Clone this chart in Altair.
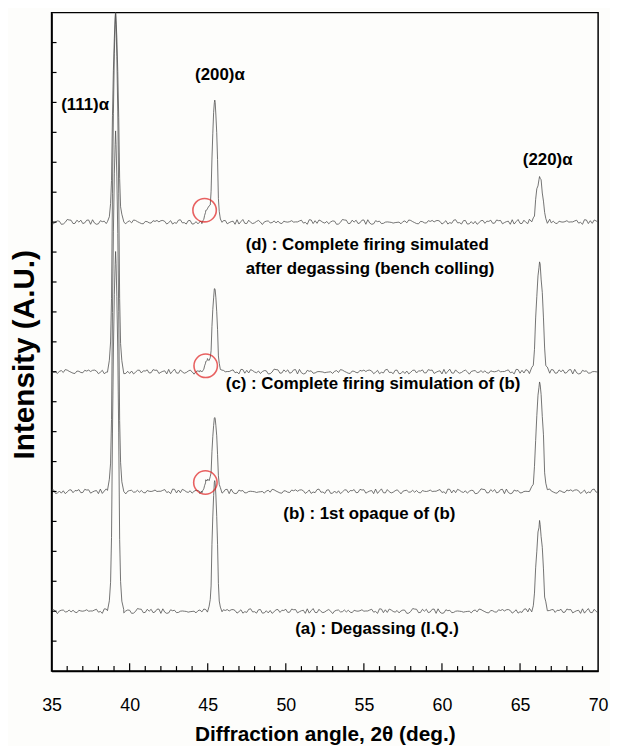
import altair as alt
import numpy as np
import pandas as pd

# ---- data ----
traces = ["(a)", "(b)", "(c)", "(d)"]
baselines = [2.0, 6.0, 10.0, 15.0]
h111 = [12.0, 12.0, 12.0, 7.0]
h200 = [4.4, 2.5, 2.8, 4.1]
h220 = [2.9, 3.6, 3.6, 1.5]
shoulder = [0.0, 0.4, 0.4, 0.45]
noise_shift = [0, 37, 74, 111]

peak_pos = [39.1, 45.45, 66.25]
peak_w = [0.2, 0.18, 0.25]
shoulder_pos = 45.0
shoulder_w = 0.2

prof_off = [-2.6, -2.0, -1.6, -1.3, -1.0, -0.7, -0.4, -0.15, 0.0, 0.15, 0.4, 0.7, 1.0, 1.3, 1.6, 2.0, 2.6]
prof_val = [0.0, 0.03, 0.08, 0.2, 0.5, 0.72, 0.88, 0.97, 1.0, 0.97, 0.88, 0.72, 0.5, 0.2, 0.08, 0.03, 0.0]

noise = [3, -5, 8, -2, 6, -9, 1, 7, -4, 10, -6, 2, -8, 5, 0, 9, -3, -7, 4, -1, 8, -10, 6, -2, 3, -6, 11, -4, 1, 7,
         -8, 2, -5, 9, -1, 4, -7, 6, -3, 0, 8, -9, 5, -2, 7, -4, 1, -6, 10, -3, 2, -8, 6, 0, -5, 9, -2, 4, -7, 3,
         -1, 8, -6, 5, -9, 2, 7, -4, 0, 6, -3, 10, -7, 1, -2, 8, -5, 4, -8, 3, 6, -1, -6, 9, -4, 2, -9, 7, 0, -3,
         5, -6, 11, -2, 3, -7, 8, -1, 4, -5, 6, -8, 2, 9, -4, 1, -6, 7, -2, 5, -9, 3, 0, 8, -5, 6, -3, 10, -7, 2,
         -1, 4, -8, 9, -4, 1, 6, -6, 3, -2, 7, -9, 5, 0, -3, 8, -5, 2, -7, 4, 1]

circ_x = [44.85, 44.87, 44.8]
circ_y = [6.3, 10.2, 15.4]

peak_labels = ["(111)α", "(200)α", "(220)α"]
peak_label_x = [37.15, 45.78, 66.77]
peak_label_y = [18.9, 19.9, 17.07]

trace_labels = ["(d) : Complete firing simulated", "after degassing (bench colling)",
                "(c) : Complete firing simulation of (b)", "(b) : 1st opaque of (b)",
                "(a) : Degassing (I.Q.)"]
trace_label_x = [47.43, 47.43, 46.16, 49.84, 50.6]
trace_label_y = [14.22, 13.43, 9.59, 5.26, 1.39]

x_major = [35, 40, 45, 50, 55, 60, 65, 70]
x_minor = [v for v in range(36, 70) if v % 5 != 0]
y_ticks = list(range(1, 22))

# ---- build traces ----
rows = []
grid = [35 + 0.125 * i for i in range(281)]
for t in range(4):
    heights = [h111[t], h200[t], h220[t]]
    pts = []
    for i, gx in enumerate(grid):
        inside = any(abs(gx - p) < 2.6 * w for p, w in zip(peak_pos, peak_w))
        if not inside:
            pts.append((gx, noise[(i * 7 + noise_shift[t]) % len(noise)] * 0.008))
    for k, (p, w) in enumerate(zip(peak_pos, peak_w)):
        for j, o in enumerate(prof_off):
            amp = 0.012 if k == 2 else 0.006
            pts.append((p + o * w, noise[(j * 3 + k + noise_shift[t]) % len(noise)] * amp))
    if shoulder[t] > 0:
        for o in prof_off[:9]:
            pts.append((shoulder_pos + o * shoulder_w, 0.0))
    pts.sort()
    for x, n in pts:
        y = baselines[t] + n
        for k, (p, w) in enumerate(zip(peak_pos, peak_w)):
            y += heights[k] * np.interp((x - p) / w, prof_off, prof_val, left=0, right=0)
        if shoulder[t] > 0:
            y += shoulder[t] * np.interp((x - shoulder_pos) / shoulder_w, prof_off, prof_val, left=0, right=0)
        rows.append({"trace": traces[t], "x": x, "y": y})

df = pd.DataFrame(rows)

W, H = 552, 665
xs = alt.Scale(domain=[35, 70], nice=False, zero=False)
ys = alt.Scale(domain=[0, 22], nice=False, zero=False)

lines = alt.Chart(df).mark_line(color="#505050", strokeWidth=0.8, clip=True).encode(
    x=alt.X("x:Q", scale=xs, axis=alt.Axis(
        title="Diffraction angle, 2θ (deg.)", values=x_major, format="d", ticks=False, grid=False,
        labelFlush=False, labelFontSize=18, labelFont="Liberation Sans", labelColor="black", labelPadding=26,
        titleFontSize=21, titleFont="Liberation Sans", titleFontWeight="bold", titleColor="black",
        titlePadding=9, domainColor="black", domainWidth=1.5)),
    y=alt.Y("y:Q", scale=ys, axis=alt.Axis(
        title="Intensity (A.U.)", labels=False, ticks=False, grid=False,
        titleFontSize=30, titleFont="Liberation Sans", titleFontWeight="bold", titleColor="black",
        titlePadding=12, titleY=345, domainColor="black", domainWidth=1.5)),
    detail="trace:N",
)

xmaj = alt.Chart(pd.DataFrame({"x": x_major[1:-1]})).mark_rule(color="black", strokeWidth=1.2).encode(
    x=alt.X("x:Q", scale=xs), y=alt.value(H), y2=alt.value(H - 8))
xmin = alt.Chart(pd.DataFrame({"x": x_minor})).mark_rule(color="black", strokeWidth=1.2).encode(
    x=alt.X("x:Q", scale=xs), y=alt.value(H), y2=alt.value(H - 5))
yt = alt.Chart(pd.DataFrame({"y": y_ticks})).mark_rule(color="black", strokeWidth=1.2).encode(
    y=alt.Y("y:Q", scale=ys), x=alt.value(0), x2=alt.value(5))

circles = alt.Chart(pd.DataFrame({"x": circ_x, "y": circ_y})).mark_point(
    shape="circle", size=560, filled=False, color="#e02020", strokeWidth=1.6).encode(
    x=alt.X("x:Q", scale=xs), y=alt.Y("y:Q", scale=ys))

plabels = alt.Chart(pd.DataFrame({"x": peak_label_x, "y": peak_label_y, "t": peak_labels})).mark_text(
    font="Liberation Sans", fontWeight="bold", fontSize=17, color="black", align="center", baseline="middle").encode(
    x=alt.X("x:Q", scale=xs), y=alt.Y("y:Q", scale=ys), text="t:N")

tlabels = alt.Chart(pd.DataFrame({"x": trace_label_x, "y": trace_label_y, "t": trace_labels})).mark_text(
    font="Liberation Sans", fontWeight="bold", fontSize=17, color="black", align="left", baseline="middle").encode(
    x=alt.X("x:Q", scale=xs), y=alt.Y("y:Q", scale=ys), text="t:N")

chart = alt.layer(lines, xmaj, xmin, yt, circles, plabels, tlabels).properties(
    width=W, height=H,
    autosize=alt.AutoSizeParams(type="none"),
    padding={"left": 44, "top": 1, "right": 12, "bottom": 72},
    background="#fdfdfb",
).configure_view(stroke="black", strokeWidth=1.5)

chart.save("out.html", embed_options={"renderer": "svg", "actions": False})
